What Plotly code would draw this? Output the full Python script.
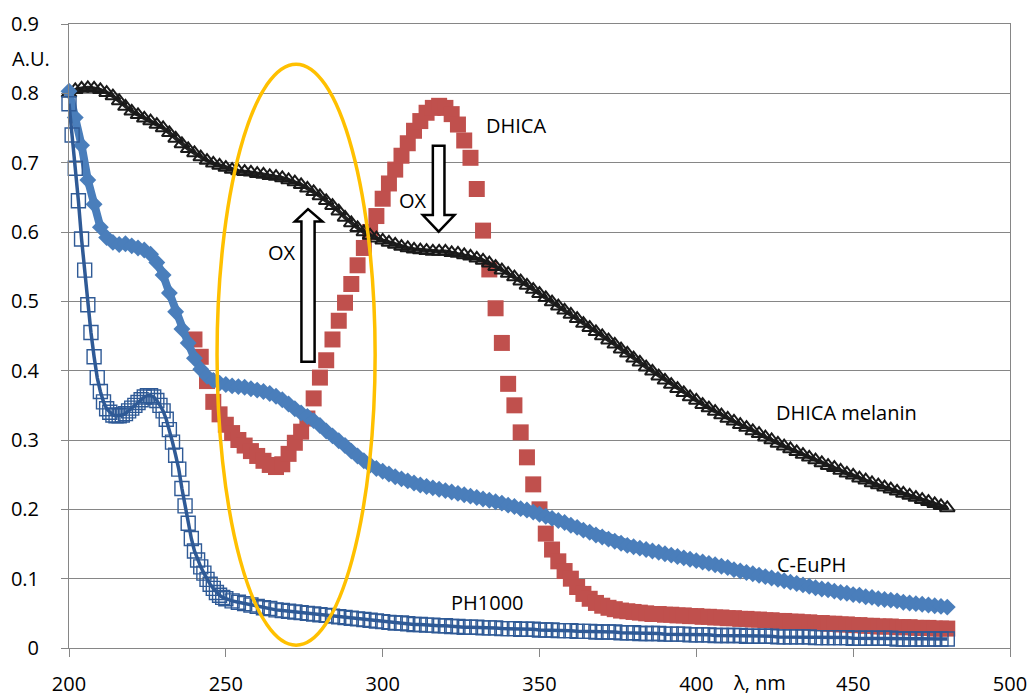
import plotly.graph_objects as go

# ---------------- data ----------------
wl_2nm = list(range(200, 481, 2))          # DHICA melanin, C-EuPH
wl_dhica = list(range(240, 481, 2))        # DHICA
wl_ph = list(range(200, 251)) + list(range(252, 481, 2))  # PH1000

dhica_melanin = [
    0.800, 0.805, 0.807, 0.808, 0.807, 0.805, 0.801, 0.796, 0.789, 0.781,
    0.774, 0.769, 0.764, 0.760, 0.755, 0.750, 0.743, 0.735, 0.727, 0.720,
    0.714, 0.708, 0.703, 0.699, 0.696, 0.693, 0.690, 0.688, 0.687, 0.686,
    0.684, 0.683, 0.681, 0.680, 0.678, 0.675, 0.672, 0.668, 0.663, 0.658,
    0.652, 0.645, 0.638, 0.630, 0.621, 0.613, 0.606, 0.600, 0.595, 0.591,
    0.588, 0.585, 0.582, 0.579, 0.577, 0.575, 0.574, 0.573, 0.572, 0.572,
    0.572, 0.570, 0.569, 0.567, 0.565, 0.562, 0.559, 0.555, 0.550, 0.545,
    0.540, 0.535, 0.529, 0.523, 0.517, 0.511, 0.505, 0.499, 0.493, 0.487,
    0.481, 0.475, 0.468, 0.462, 0.456, 0.450, 0.444, 0.438, 0.431, 0.425,
    0.418, 0.412, 0.405, 0.399, 0.392, 0.386, 0.380, 0.374, 0.368, 0.362,
    0.357, 0.351, 0.346, 0.341, 0.336, 0.331, 0.327, 0.322, 0.318, 0.313,
    0.309, 0.304, 0.300, 0.295, 0.291, 0.287, 0.283, 0.279, 0.275, 0.271,
    0.267, 0.263, 0.260, 0.256, 0.252, 0.249, 0.245, 0.242, 0.238, 0.235,
    0.232, 0.229, 0.226, 0.223, 0.220, 0.217, 0.214, 0.211, 0.208, 0.205,
    0.202,
]

dhica = [
    0.445, 0.420, 0.385, 0.355, 0.337, 0.322, 0.310, 0.300, 0.292, 0.284,
    0.277, 0.270, 0.264, 0.261, 0.265, 0.280, 0.296, 0.312, 0.331, 0.360,
    0.390, 0.415, 0.445, 0.472, 0.498, 0.525, 0.552, 0.577, 0.600, 0.623,
    0.648, 0.670, 0.690, 0.710, 0.728, 0.746, 0.760, 0.772, 0.779, 0.782,
    0.779, 0.770, 0.755, 0.732, 0.707, 0.662, 0.602, 0.546, 0.490, 0.440,
    0.381, 0.350, 0.311, 0.275, 0.236, 0.200, 0.165, 0.142, 0.125, 0.111,
    0.100, 0.088, 0.078, 0.071, 0.065, 0.061, 0.058, 0.056, 0.054, 0.053,
    0.052, 0.051, 0.050, 0.049, 0.049, 0.048, 0.048, 0.047, 0.047, 0.046,
    0.046, 0.045, 0.045, 0.044, 0.044, 0.043, 0.043, 0.042, 0.042, 0.041,
    0.041, 0.040, 0.040, 0.039, 0.039, 0.038, 0.038, 0.037, 0.037, 0.036,
    0.036, 0.035, 0.035, 0.034, 0.034, 0.033, 0.033, 0.032, 0.032, 0.031,
    0.031, 0.031, 0.030, 0.030, 0.030, 0.029, 0.029, 0.029, 0.028, 0.028,
    0.028,
]

c_euph = [
    0.803, 0.765, 0.725, 0.675, 0.640, 0.607, 0.592, 0.585, 0.582, 0.583,
    0.580, 0.577, 0.574, 0.568, 0.556, 0.538, 0.512, 0.485, 0.460, 0.440,
    0.418, 0.402, 0.392, 0.386, 0.382, 0.380, 0.378, 0.377, 0.376, 0.374,
    0.372, 0.370, 0.367, 0.363, 0.358, 0.352, 0.345, 0.339, 0.334, 0.328,
    0.321, 0.313, 0.306, 0.299, 0.292, 0.284, 0.277, 0.270, 0.264, 0.259,
    0.255, 0.251, 0.247, 0.244, 0.241, 0.238, 0.235, 0.233, 0.231, 0.229,
    0.227, 0.225, 0.223, 0.221, 0.219, 0.217, 0.215, 0.213, 0.211, 0.209,
    0.206, 0.204, 0.201, 0.199, 0.196, 0.193, 0.190, 0.187, 0.184, 0.181,
    0.177, 0.174, 0.170, 0.167, 0.163, 0.160, 0.157, 0.154, 0.151, 0.148,
    0.146, 0.144, 0.142, 0.140, 0.138, 0.136, 0.134, 0.132, 0.130, 0.128,
    0.126, 0.124, 0.122, 0.120, 0.118, 0.116, 0.113, 0.111, 0.109, 0.107,
    0.105, 0.103, 0.101, 0.099, 0.097, 0.095, 0.093, 0.091, 0.089, 0.087,
    0.085, 0.084, 0.082, 0.080, 0.079, 0.077, 0.076, 0.074, 0.073, 0.071,
    0.070, 0.069, 0.068, 0.066, 0.065, 0.064, 0.063, 0.062, 0.061, 0.060,
    0.059,
]

ph1000 = [
    # 200-250, 1 nm
    0.785, 0.740, 0.692, 0.645, 0.590, 0.545, 0.495, 0.455, 0.420, 0.390,
    0.370, 0.355, 0.345, 0.340, 0.336, 0.335, 0.335, 0.336, 0.338, 0.342,
    0.346, 0.350, 0.354, 0.358, 0.362, 0.364, 0.364, 0.362, 0.357, 0.350,
    0.342, 0.330, 0.315, 0.297, 0.278, 0.258, 0.230, 0.205, 0.180, 0.158,
    0.140, 0.127, 0.117, 0.108, 0.099, 0.092, 0.086, 0.080, 0.076, 0.073,
    0.071,
    # 252-480, 2 nm
    0.068, 0.066, 0.064, 0.062, 0.060, 0.058, 0.057, 0.055, 0.054, 0.053,
    0.052, 0.051, 0.050, 0.049, 0.048, 0.047, 0.046, 0.045, 0.044, 0.043,
    0.042, 0.041, 0.040, 0.039, 0.038, 0.037, 0.036, 0.036, 0.035, 0.034,
    0.034, 0.033, 0.033, 0.032, 0.032, 0.031, 0.031, 0.030, 0.030, 0.030,
    0.029, 0.029, 0.029, 0.028, 0.028, 0.028, 0.027, 0.027, 0.027, 0.026,
    0.026, 0.026, 0.025, 0.025, 0.025, 0.024, 0.024, 0.024, 0.023, 0.023,
    0.023, 0.023, 0.022, 0.022, 0.022, 0.021, 0.021, 0.021, 0.021, 0.020,
    0.020, 0.020, 0.020, 0.019, 0.019, 0.019, 0.019, 0.018, 0.018, 0.018,
    0.018, 0.018, 0.017, 0.017, 0.017, 0.017, 0.017, 0.016, 0.016, 0.016,
    0.016, 0.016, 0.016, 0.015, 0.015, 0.015, 0.015, 0.015, 0.015, 0.014,
    0.014, 0.014, 0.014, 0.014, 0.014, 0.014, 0.013, 0.013, 0.013, 0.013,
    0.013, 0.013, 0.013, 0.013, 0.013,
]

x_ticks = [200, 250, 300, 350, 400, 450, 500]
y_ticks = [0, 0.1, 0.2, 0.3, 0.4, 0.5, 0.6, 0.7, 0.8, 0.9]
y_labels = ["0", "0.1", "0.2", "0.3", "0.4", "0.5", "0.6", "0.7", "0.8", "0.9"]

# ---------------- figure ----------------
FONT = "Open Sans"
GRID = "#868686"

fig = go.Figure()
fig.add_trace(go.Scatter(
    x=wl_dhica, y=dhica, mode="markers", name="DHICA", cliponaxis=False,
    marker=dict(symbol="square", size=16, color="#C0504D", line=dict(width=0))))
fig.add_trace(go.Scatter(
    x=wl_2nm, y=dhica_melanin, mode="lines+markers", name="DHICA melanin", cliponaxis=False,
    line=dict(color="#222222", width=4),
    marker=dict(symbol="triangle-up-open", size=13, color="#1A1A1A", line=dict(width=2))))
fig.add_trace(go.Scatter(
    x=wl_2nm, y=c_euph, mode="lines+markers", name="C-EuPH", cliponaxis=False,
    line=dict(color="#4A7EBB", width=8),
    marker=dict(symbol="diamond", size=13, color="#4A7EBB", line=dict(width=0))))
fig.add_trace(go.Scatter(
    x=wl_ph, y=ph1000, mode="lines+markers", name="PH1000", cliponaxis=False,
    line=dict(color="#2F5A96", width=3.5),
    marker=dict(symbol="square-open", size=14, color="#2F5A96", line=dict(width=1.4))))


def hollow_arrow(xl, xr, xhl, xhr, xc, ybase, yhead, ytip):
    return (f"M {xl},{ybase} L {xr},{ybase} L {xr},{yhead} L {xhr},{yhead} "
            f"L {xc},{ytip} L {xhl},{yhead} L {xl},{yhead} Z")


shapes = [
    dict(type="circle", xref="x", yref="y", x0=247.2, x1=297.6, y0=0.004, y1=0.842,
         line=dict(color="#FFC000", width=3.5), layer="above"),
    dict(type="path", xref="x", yref="y", layer="above",
         path=hollow_arrow(274.1, 278.3, 272.0, 280.8, 276.2, 0.413, 0.615, 0.633),
         fillcolor="white", line=dict(color="black", width=2.5)),
    dict(type="path", xref="x", yref="y", layer="above",
         path=hollow_arrow(316.0, 319.7, 312.8, 322.9, 317.85, 0.7245, 0.6245, 0.6005),
         fillcolor="white", line=dict(color="black", width=2.5)),
]

txt = dict(size=20, color="black", family=FONT)
annotations = [
    dict(x=342.5, y=0.754, text="DHICA", xref="x", yref="y"),
    dict(x=267.9, y=0.571, text="OX", xref="x", yref="y"),
    dict(x=309.7, y=0.646, text="OX", xref="x", yref="y"),
    dict(x=448.0, y=0.340, text="DHICA melanin", xref="x", yref="y"),
    dict(x=436.6, y=0.121, text="C-EuPH", xref="x", yref="y"),
    dict(x=333.3, y=0.065, text="PH1000", xref="x", yref="y"),
    dict(x=-0.0404, y=0.944, text="A.U.", xref="paper", yref="paper"),
    dict(x=0.7333, y=-0.0555, text="λ, nm", xref="paper", yref="paper"),
]
for a in annotations:
    a.update(showarrow=False, font=txt, xanchor="center", yanchor="middle")

fig.update_layout(
    width=1031, height=696,
    margin=dict(l=69, r=21, t=24, b=48),
    paper_bgcolor="white", plot_bgcolor="white",
    showlegend=False,
    font=dict(family=FONT, size=20, color="black"),
    shapes=shapes, annotations=annotations,
    xaxis=dict(range=[200, 500], tickvals=x_ticks, showgrid=False, zeroline=False,
               automargin=False,
               showline=True, linecolor=GRID, linewidth=1, mirror=True,
               ticks="outside", ticklen=8, tickcolor=GRID, tickwidth=1,
               ticklabelstandoff=10, tickfont=dict(size=20, color="black")),
    yaxis=dict(range=[0, 0.9], tickvals=y_ticks, ticktext=y_labels,
               automargin=False,
               showgrid=True, gridcolor=GRID, gridwidth=1, zeroline=False,
               showline=True, linecolor=GRID, linewidth=1, mirror=True,
               ticks="outside", ticklen=7, tickcolor=GRID, tickwidth=1,
               ticklabelstandoff=18, tickfont=dict(size=20, color="black")),
)

fig.write_html("out.html", config={"displayModeBar": False},
               post_script="document.body.style.margin='0';document.body.style.overflow='hidden';")
